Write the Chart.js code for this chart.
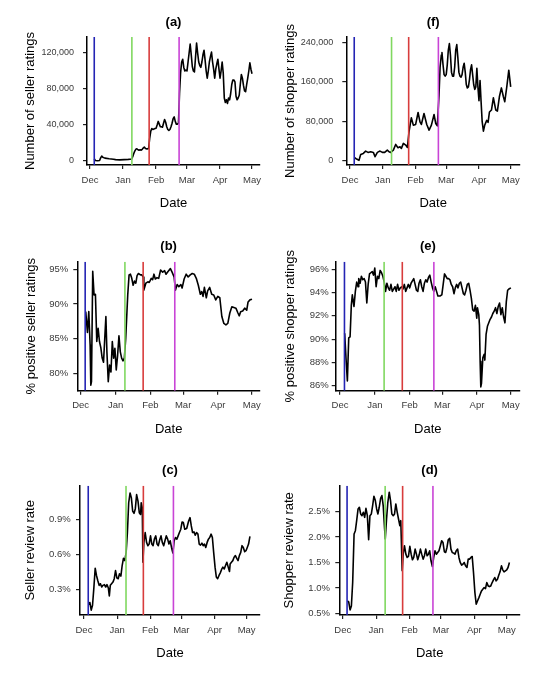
<!DOCTYPE html>
<html><head><meta charset="utf-8">
<script src="https://cdn.jsdelivr.net/npm/chart.js@4.4.1/dist/chart.umd.min.js"></script>
<style>
html,body{margin:0;padding:0;background:#fff;}
body{width:557px;height:680px;position:relative;overflow:hidden;}
.p{position:absolute;}
canvas{display:block;}
</style></head><body>
<div class="p" style="left:0;top:0"><canvas id="ca" width="278" height="225" style="width:278px;height:225px"></canvas></div>
<div class="p" style="left:278px;top:0"><canvas id="cf" width="279" height="225" style="width:279px;height:225px"></canvas></div>
<div class="p" style="left:0;top:225px"><canvas id="cb" width="278" height="225" style="width:278px;height:225px"></canvas></div>
<div class="p" style="left:278px;top:225px"><canvas id="ce" width="279" height="225" style="width:279px;height:225px"></canvas></div>
<div class="p" style="left:0;top:450px"><canvas id="cc" width="278" height="230" style="width:278px;height:230px"></canvas></div>
<div class="p" style="left:278px;top:450px"><canvas id="cd" width="279" height="230" style="width:279px;height:230px"></canvas></div>
<script>
// x values are days since 1 December
const monthDays = [0, 31, 62, 91, 122, 152];
const monthLabels = ['Dec', 'Jan', 'Feb', 'Mar', 'Apr', 'May'];
const eventDays = [4, 39.3, 55.5, 83.6];
const eventColors = ['#2424B4', '#80D860', '#D83C3C', '#C944D6'];

const sellerRatingsTicks = [0, 40000, 80000, 120000];
const shopperRatingsTicks = [0, 80000, 160000, 240000];
const sellerPositiveTicks = [80, 85, 90, 95];
const shopperPositiveTicks = [86, 88, 90, 92, 94, 96];
const sellerRateTicks = [0.3, 0.6, 0.9];
const shopperRateTicks = [0.5, 1.0, 1.5, 2.0, 2.5];

// (a) Number of seller ratings
const sellerRatings = [[4,2500],[5,600],[7,300],[9,500],[10,3500],[11,5500],[12,4200],[14,3200],[18,2500],[22,2000],[24,1500],[28,1200],[32,1500],[36,1800],[39,2200],
[40,4500],[41,8000],[42,11000],[43,13000],[44,13500],[45,12500],[46,12000],[47,12500],[48,12000],[49,13000],[50,14500],[51,15500],[52,14000],[53,13500],[54,13500],[55,14000],
[56,25000],[57,33000],[58,36000],[59,35000],[60,35500],[61,36000],[62,36500],[63,40000],[64,44000],[65,41000],[66,38000],[67,38000],[68,37500],[69,42000],[70,46000],[71,43000],[72,38000],[73,35000],[74,34000],[75,35000],[76,38000],[77,42000],[78,47000],[79,49000],[80,44000],[81,41000],[82,41000],[83,42000],
[84,75000],[85,98000],[86,110000],[87,113000],[88,104000],[89,100000],[90,101000],[91,100000],[92,110000],[93,120000],[94,130000],[95,118000],[96,105000],[97,100000],[98,99000],[99,115000],[100,131000],[101,120000],[102,110000],[103,106000],[104,104000],[105,110000],[106,118000],[107,123000],[108,112000],[109,100000],[110,92000],[111,100000],[112,110000],[113,116000],[114,121000],[115,110000],[116,102000],[117,92000],[118,102000],[119,108000],[120,113000],[121,102000],[122,92000],[123,100000],[124,110000],[125,98000],
[126,70000],[127,65000],[128,68000],[129,64000],[130,70000],[131,68000],[132,75000],[133,85000],[134,90000],[135,90000],[136,88000],[137,72000],[138,68000],[139,70000],[140,73000],[141,85000],[142,96000],[143,92000],[144,84000],[145,78000],[146,77000],[147,85000],[148,92000],[149,100000],[150,109000],[151,102000],[152,97000]];

// (f) Number of shopper ratings
const shopperRatings = [[4.4,6100],[6.3,3400],[8.5,700],[10.1,12800],[12.6,14900],[14.8,19600],[17,16900],[19.6,18300],[22.1,16900],[23.7,8100],[25.9,16900],[28.4,19600],[30.6,16900],[32.8,16900],[35.3,21600],[36.9,18300],[38.5,16900],[41,21600],[43.2,33100],[45.4,26400],[47.3,28400],[48.6,25000],[50.5,35200],[52.7,31800],[54.3,27000],
[55.8,58800],[58,87200],[59.9,72300],[62.1,73700],[64.4,98000],[66.2,79100],[67.5,73700],[70,96000],[72.6,73700],[74.8,62200],[77,72300],[79.5,94000],[81.1,75700],[82.6,71000],
[84.2,133000],[85.2,190000],[86.4,215000],[87,220000],[88,195000],[89,175000],[90,172000],[91,175000],[92,195000],[93,225000],[94,238000],[95,215000],[96,180000],[97,172000],[98,172000],[99,190000],[100,225000],[101,236000],[102,210000],[103,180000],[104,172000],[105,170000],[106,175000],[107,190000],[108,198000],[109,180000],[110,155000],[111,148000],[112,150000],[113,165000],[114,185000],[115,195000],[116,175000],[117,155000],[118,145000],[119,150000],[120,188000],[121,150000],[122,122000],[123,163000],[124,120000],[125,80000],
[126.2,60000],[127.4,72000],[129.3,82000],[130.6,78000],[131.9,99000],[133.8,103000],[135.6,128000],[137.9,103000],[139.4,101000],[141.3,130000],[143.2,148000],[145.1,130000],[146.4,120000],[148.3,150000],[150.2,184000],[152,150000]];

// (b) % positive seller ratings
const sellerPositive = [[4.5,88.9],[6.0,85.9],[7.2,88.9],[8.4,84.1],[9.0,78.3],[9.6,78.8],[10.7,94.7],[11.9,91.3],[13.1,91.4],[14.3,84.6],[15.5,86.5],[16.7,84.6],[17.9,83.7],[19.1,82.2],[20.3,81.6],[22.4,88.2],[23.3,83.1],[24.5,78.8],[25.7,81.2],[26.9,80.2],[28.1,84.6],[29.3,82.2],[30.4,83.6],[31.6,80.5],[32.8,82.6],[34.0,85.4],[35.2,83.1],[36.4,82.2],[37.6,81.8],[38.8,82.2],
[40.0,85.0],[41.8,91.3],[43.0,94.2],[44.2,94.3],[45.4,93.7],[46.6,92.7],[47.8,93.3],[49.0,93.0],[50.1,94.1],[51.3,94.4],[53.1,94.2],[54.3,94.2],[55.5,93.9],[56.1,92.0],[57.9,93.0],[59.7,93.2],[60.9,93.1],[62.7,93.7],[63.9,93.5],[65.1,94.3],[66.3,93.6],[67.8,93.8],[69.3,93.7],[71.0,94.9],[72.8,94.6],[74.6,94.8],[75.8,94.3],[77.6,94.7],[79.7,95.1],[81.2,94.6],[83.0,93.9],
[84.2,92.0],[85.7,92.8],[87.2,92.5],[89.0,92.8],[90.1,92.3],[91.9,93.6],[93.7,94.3],[95.5,93.9],[97.3,94.2],[99.1,94.4],[100.9,94.3],[102.7,93.7],[104.5,92.7],[106.3,91.4],[107.5,91.8],[108.7,91.1],[109.9,92.4],[111.6,90.9],[112.8,91.9],[114.6,92.4],[116.4,91.4],[118.2,91.3],[120.0,90.6],[121.8,91.1],[123.6,90.9],
[125.4,88.2],[127.2,87.2],[129.0,87.0],[130.7,87.2],[132.5,88.7],[134.3,89.6],[136.1,89.5],[137.9,89.4],[139.7,88.7],[140.9,88.3],[142.1,88.9],[143.9,89.0],[145.7,89.4],[147.5,89.1],[148.7,90.3],[150.4,90.6],[152.2,90.7]];

// (e) % positive shopper ratings
const shopperPositive = [[4.2,90.5],[5.4,88.3],[6.6,86.4],[7.8,90.1],[9.0,90.2],[10.1,92.9],[11.0,93.8],[12.5,92.8],[13.7,94.1],[14.9,94.9],[16.1,94.5],[16.7,95.2],[17.9,94.8],[19.1,95.4],[20.3,95.1],[21.5,95.2],[22.7,94.9],[23.9,93.1],[25.1,94.7],[26.3,95.6],[27.5,95.7],[28.7,95.8],[29.9,95.5],[31.0,96.1],[32.2,94.5],[33.4,95.4],[34.6,95.2],[35.8,95.9],[37.0,95.7],[38.2,95.4],[39.4,94.9],
[40.6,94.1],[41.8,94.8],[43.0,94.4],[44.2,94.2],[45.4,94.7],[46.6,94.1],[47.8,94.3],[49.0,94.5],[50.1,94.1],[51.3,94.7],[52.5,94.2],[53.7,94.4],[54.9,94.5],[56.1,94.3],[57.3,94.7],[58.5,94.1],[59.7,94.4],[60.9,94.7],[62.1,94.4],[63.3,94.8],[64.5,95.0],[65.7,95.2],[66.9,94.7],[68.1,94.2],[69.3,94.1],[70.4,94.8],[71.6,95.1],[72.8,94.5],[74.0,94.1],[75.2,94.8],[76.4,95.1],[77.6,94.9],[78.8,95.3],[80.0,95.5],[81.2,94.9],[82.4,94.4],[83.6,94.1],
[84.8,94.5],[86.0,94.1],[87.2,93.7],[89.0,93.7],[90.7,93.8],[91.9,94.7],[93.1,95.6],[94.3,95.4],[95.5,95.2],[96.7,95.2],[97.9,95.1],[99.1,94.7],[100.3,94.5],[101.5,93.9],[102.7,94.4],[103.9,94.7],[105.1,94.4],[106.3,94.8],[107.5,94.9],[108.7,94.4],[109.9,93.9],[111.0,93.8],[112.2,94.2],[113.4,94.7],[114.6,94.8],[115.8,94.2],[117.0,93.5],[118.2,92.5],[119.4,92.4],[120.6,92.9],[121.8,91.8],[122.4,92.7],[123.6,92.1],[124.2,91.2],
[124.8,88.1],[125.4,85.9],[126.0,86.2],[127.2,88.4],[128.4,88.7],[129.0,88.2],[130.1,90.4],[131.3,91.1],[132.5,91.4],[133.7,91.7],[134.9,91.9],[136.1,92.2],[137.3,92.4],[138.5,92.7],[139.7,92.2],[140.9,92.8],[142.1,93.1],[143.3,92.1],[144.5,92.7],[145.7,91.9],[146.9,91.4],[148.1,93.2],[149.3,94.2],[150.4,94.3],[152.2,94.4]];

// (c) Seller review rate (%)
const sellerReviewRate = [[4.3,0.170],[5.5,0.187],[6.8,0.122],[8.0,0.164],[9.2,0.306],[10.5,0.481],[11.7,0.419],[12.9,0.376],[14.2,0.334],[15.4,0.348],[16.6,0.320],[17.8,0.334],[19.1,0.340],[20.3,0.320],[21.5,0.340],[22.8,0.311],[23.7,0.243],[24.6,0.334],[25.8,0.348],[27.1,0.362],[28.3,0.391],[29.5,0.461],[30.8,0.396],[32.0,0.391],[33.2,0.433],[34.5,0.413],[35.7,0.504],[36.9,0.566],[38.2,0.546],
[39.4,0.617],[40.6,0.787],[41.8,1.042],[43.1,1.126],[44.3,1.084],[45.5,0.971],[46.8,0.951],[48.0,0.991],[49.2,1.112],[50.5,1.056],[51.7,0.957],[52.9,0.942],[53.5,1.042],[54.5,0.999],
[55.1,0.532],[56.0,0.702],[57.2,0.787],[58.5,0.702],[59.7,0.674],[60.9,0.688],[62.2,0.758],[63.4,0.688],[64.6,0.674],[65.8,0.730],[67.1,0.758],[68.3,0.688],[69.5,0.674],[70.8,0.725],[72.0,0.758],[73.2,0.702],[74.5,0.674],[75.7,0.716],[76.9,0.758],[78.2,0.730],[79.4,0.688],[80.6,0.716],[81.8,0.659],[83.1,0.611],
[84.3,0.716],[85.5,0.744],[86.8,0.730],[88.0,0.758],[89.2,0.787],[90.5,0.815],[91.7,0.877],[92.9,0.872],[94.2,0.815],[96.0,0.821],[97.8,0.886],[99.1,0.914],[100.3,0.843],[101.5,0.787],[102.8,0.792],[104.0,0.764],[105.2,0.787],[106.5,0.773],[107.7,0.688],[108.9,0.679],[110.2,0.696],[111.4,0.674],[112.6,0.688],[113.8,0.659],[115.1,0.702],[116.3,0.730],[117.5,0.744],[118.8,0.773],[120.0,0.744],
[121.2,0.617],[122.5,0.490],[123.7,0.405],[124.9,0.391],[126.2,0.419],[127.4,0.441],[128.6,0.470],[129.8,0.490],[131.1,0.475],[132.3,0.504],[133.5,0.532],[134.8,0.490],[136.0,0.453],[136.6,0.518],[137.8,0.532],[139.1,0.546],[140.3,0.575],[141.5,0.589],[142.8,0.566],[144.0,0.546],[145.2,0.589],[146.5,0.617],[147.7,0.674],[148.9,0.659],[150.2,0.623],[151.4,0.631],[152.6,0.659],[153.8,0.688],[155.1,0.753]];

// (d) Shopper review rate (%)
const shopperReviewRate = [[4.3,0.743],[5.5,0.724],[6.8,0.566],[8.0,0.645],[9.2,1.105],[10.5,2.059],[11.7,2.125],[12.9,2.322],[14.2,2.553],[15.4,2.586],[16.6,2.454],[17.8,2.421],[19.1,2.487],[20.3,2.388],[21.5,2.566],[22.8,2.421],[24.0,1.947],[25.2,2.421],[26.5,2.454],[27.7,2.618],[28.9,2.803],[30.2,2.717],[31.4,2.553],[32.6,2.454],[33.8,2.586],[35.1,2.763],[36.3,2.816],[37.5,2.618],[38.8,2.158],
[39.4,1.961],[40.6,2.355],[41.8,2.684],[43.1,2.882],[44.3,2.717],[45.5,2.454],[46.8,2.421],[48.0,2.454],[49.2,2.651],[50.5,2.487],[51.7,2.355],[52.9,2.224],[53.8,2.322],
[55.1,1.336],[56.0,1.664],[57.2,1.829],[58.5,1.664],[59.7,1.599],[60.9,1.618],[62.2,1.816],[63.4,1.664],[64.6,1.553],[65.8,1.599],[67.1,1.763],[68.3,1.664],[69.5,1.553],[70.8,1.645],[72.0,1.763],[73.2,1.664],[74.5,1.566],[75.7,1.632],[76.9,1.763],[78.2,1.632],[79.4,1.664],[80.6,1.730],[81.8,1.533],[83.1,1.421],
[84.3,1.599],[85.5,1.730],[86.8,1.664],[88.0,1.697],[89.2,1.730],[90.5,1.829],[91.7,1.928],[92.9,1.895],[94.2,1.711],[95.4,1.697],[96.6,1.796],[97.8,1.947],[99.1,1.974],[100.3,1.763],[101.5,1.697],[102.8,1.684],[104.0,1.664],[105.2,1.730],[106.5,1.763],[107.7,1.599],[108.9,1.500],[110.2,1.447],[111.4,1.467],[112.6,1.500],[113.8,1.434],[115.1,1.401],[116.3,1.566],[117.5,1.566],[118.8,1.599],[120.0,1.618],
[121.2,1.303],[122.5,0.908],[123.7,0.678],[124.9,0.743],[126.2,0.809],[127.4,0.875],[128.6,0.941],[129.8,0.974],[131.1,1.007],[132.3,0.987],[133.5,1.105],[134.8,1.039],[136.0,1.026],[137.2,1.039],[138.5,1.105],[139.7,1.158],[140.9,1.204],[142.2,1.138],[143.4,1.171],[144.6,1.250],[145.8,1.316],[147.1,1.434],[148.3,1.355],[149.5,1.316],[150.8,1.336],[152.0,1.355],[153.2,1.401],[154.5,1.500]];

const FONT = "'Liberation Sans', Arial, sans-serif";
const TICK_COLOR = '#3a3a3a';
const fmtThousands = v => v.toLocaleString('en-US');
const fmtPct0 = v => v.toFixed(0) + '%';
const fmtPct1 = v => v.toFixed(1) + '%';

function makeChart(id, c) {
  const eventSets = eventDays.map((d, i) => ({
    data: [{x: d, y: c.yMin}, {x: d, y: c.yMax}],
    borderColor: eventColors[i], borderWidth: 1.6, pointRadius: 0, tension: 0
  }));
  new Chart(document.getElementById(id), {
    type: 'line',
    data: {datasets: [...eventSets, {
      data: c.series.map(p => ({x: p[0], y: p[1]})),
      borderColor: '#000', borderWidth: 1.6, pointRadius: 0, tension: 0, borderJoinStyle: 'round'
    }]},
    options: {
      responsive: false, animation: false, events: [],
      layout: {padding: c.pad},
      plugins: {
        legend: {display: false}, tooltip: {enabled: false},
        title: {display: true, text: c.title, fullSize: false, color: '#000',
          font: {family: FONT, size: 13, weight: 'bold'}, padding: {top: 0, bottom: 7.2}}
      },
      scales: {
        x: {
          type: 'linear', min: c.xMin, max: c.xMax,
          afterBuildTicks: s => { s.ticks = monthDays.map(v => ({value: v})); },
          afterFit: s => { s.height = 46.3; },
          ticks: {autoSkip: false, maxRotation: 0, padding: 5.3, color: TICK_COLOR,
            font: {family: FONT, size: 9.5}, callback: (v, i) => monthLabels[i]},
          grid: {display: true, drawOnChartArea: false, drawTicks: true, tickLength: 4, color: '#222', lineWidth: 1.2},
          border: {display: true, color: '#000', width: 1.5},
          title: {display: true, text: 'Date', color: '#000', font: {family: FONT, size: 13}, padding: 0}
        },
        y: {
          type: 'linear', min: c.yMin, max: c.yMax,
          afterBuildTicks: s => { s.ticks = c.yTicks.map(v => ({value: v})); },
          afterFit: s => { s.width = c.yW; },
          ticks: {autoSkip: false, padding: c.yPad, color: TICK_COLOR,
            font: {family: FONT, size: c.ySize || 9.5}, callback: c.fmt},
          grid: {display: true, drawOnChartArea: false, drawTicks: true, tickLength: 4, color: '#222', lineWidth: 1.2},
          border: {display: true, color: '#000', width: 1.5},
          title: {display: true, text: c.yTitle, color: '#000', font: {family: FONT, size: 13}, padding: 0}
        }
      }
    }
  });
}

makeChart('ca', {title: '(a)', series: sellerRatings, yTitle: 'Number of seller ratings',
  xMin: -2.8, xMax: 159.5, yMin: -4444, yMax: 137778, yTicks: sellerRatingsTicks, fmt: fmtThousands,
  ySize: 9, yW: 64.1, yPad: 9, pad: {left: 22.9, right: 18, top: 14.2, bottom: 13.7}});
makeChart('cf', {title: '(f)', series: shopperRatings, yTitle: 'Number of shopper ratings',
  xMin: -3.5, xMax: 160.8, yMin: -8700, yMax: 251500, yTicks: shopperRatingsTicks, fmt: fmtThousands,
  ySize: 9, yW: 64.1, yPad: 9, pad: {left: 4.2, right: 37, top: 14.2, bottom: 13.7}});
makeChart('cb', {title: '(b)', series: sellerPositive, yTitle: '% positive seller ratings',
  xMin: -3.0, xMax: 159.3, yMin: 77.5, yMax: 96.1, yTicks: sellerPositiveTicks, fmt: fmtPct0,
  yW: 53.8, yPad: 5, pad: {left: 23.5, right: 18, top: 13.9, bottom: 13}});
makeChart('ce', {title: '(e)', series: shopperPositive, yTitle: '% positive shopper ratings',
  xMin: -3.8, xMax: 160.3, yMin: 85.57, yMax: 96.65, yTicks: shopperPositiveTicks, fmt: fmtPct0,
  yW: 53.2, yPad: 3, pad: {left: 4.5, right: 37, top: 13.9, bottom: 13}});
makeChart('cc', {title: '(c)', series: sellerReviewRate, yTitle: 'Seller review rate',
  xMin: -3.7, xMax: 164.5, yMin: 0.08, yMax: 1.188, yTicks: sellerRateTicks, fmt: fmtPct1,
  yW: 57, yPad: 5.3, pad: {left: 23, right: 18, top: 12.9, bottom: 18.7}});
makeChart('cd', {title: '(d)', series: shopperReviewRate, yTitle: 'Shopper review rate',
  xMin: -3.2, xMax: 164.3, yMin: 0.467, yMax: 3.01, yTicks: shopperRateTicks, fmt: fmtPct1,
  yW: 57.8, yPad: 5.3, pad: {left: 3.5, right: 37, top: 12.9, bottom: 18.7}});
</script>
</body></html>
